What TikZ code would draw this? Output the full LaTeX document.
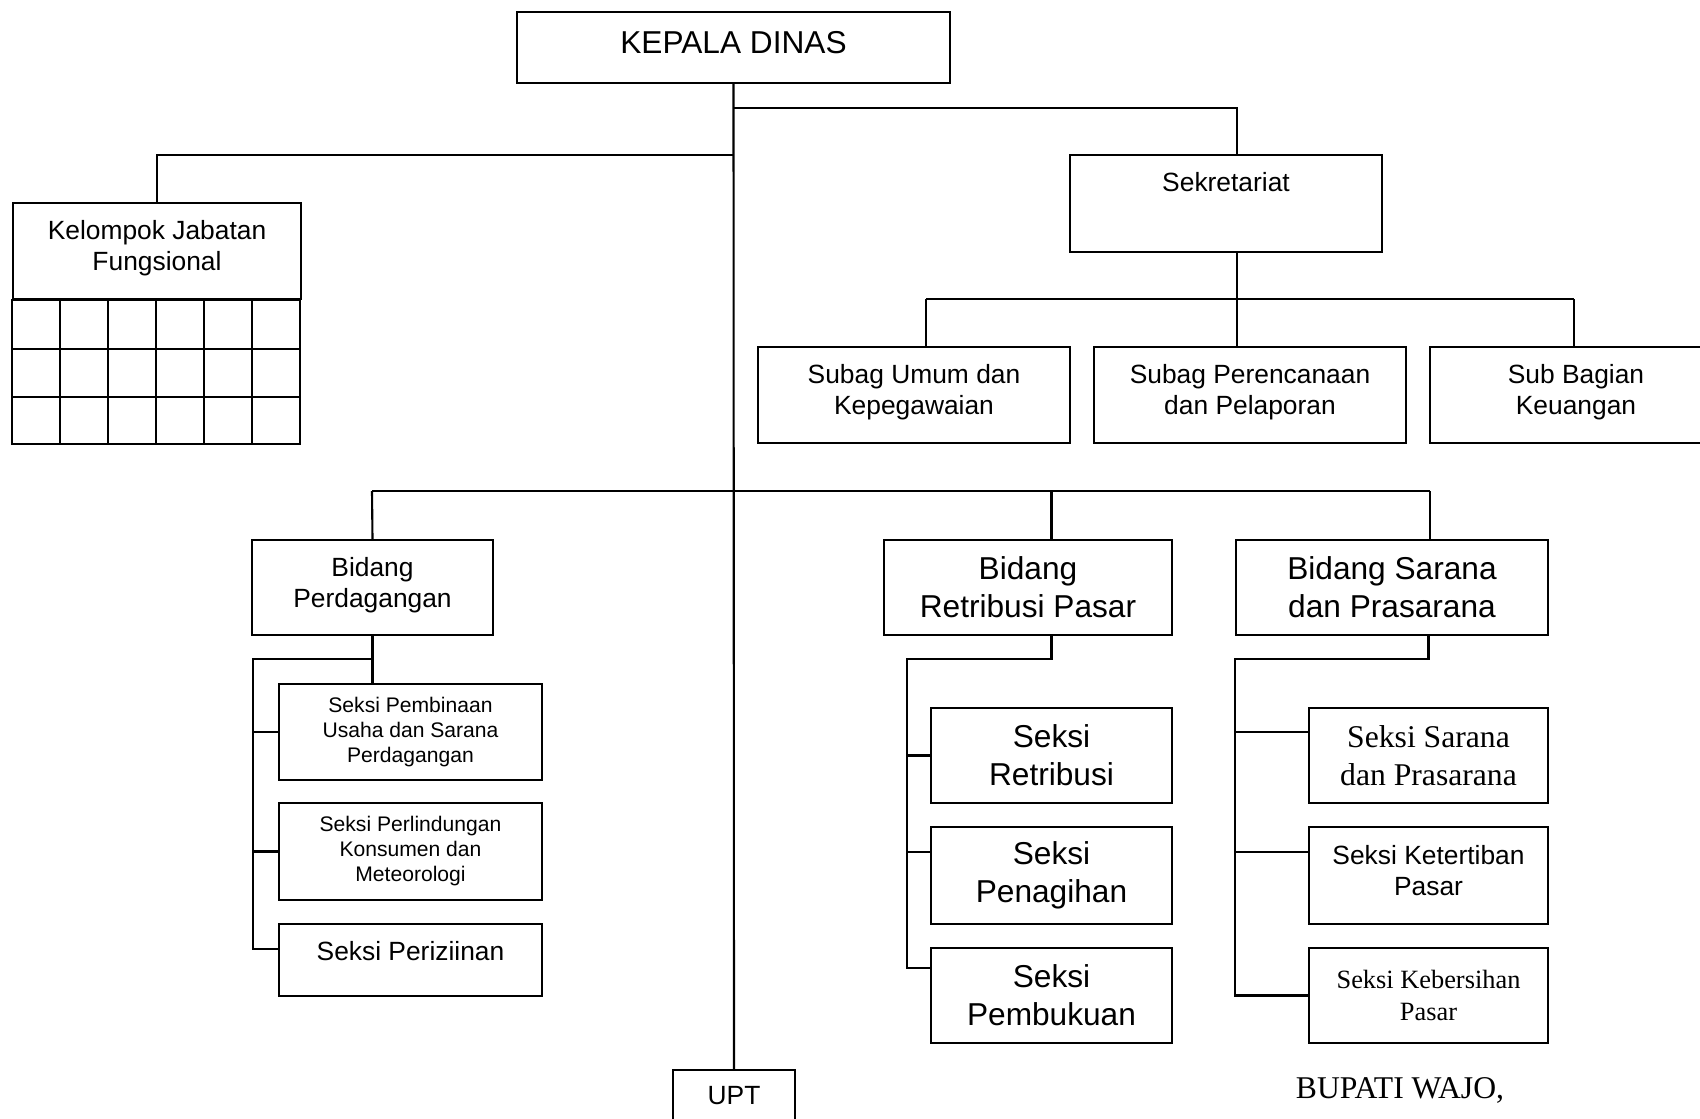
\documentclass[tikz,border=0pt]{standalone}
\usepackage{fontspec}
\setmainfont{Liberation Sans}
\newfontfamily\timesfont{Liberation Serif}

\tikzset{
  box/.style={draw, line width=0.6pt, align=center, inner sep=0pt},
  big/.style={font=\fontsize{9}{10.8}\selectfont},
  mid/.style={font=\fontsize{7.5}{8.9}\selectfont},
  sml/.style={font=\fontsize{6}{7.1}\selectfont},
  conn/.style={line width=0.6pt},
}

\begin{document}
\begin{tikzpicture}[x=0.01cm, y=-0.01cm]
\clip (0,0) rectangle (1700,1118);

% top level
\node[box, big, minimum width=4.33cm, minimum height=0.71cm, text depth=3pt] (kepala) at (733.5,47.5) {KEPALA DINAS};
\node[box, mid, minimum width=2.88cm, minimum height=0.96cm, text depth=3pt] (kjf) at (157,251) {Kelompok Jabatan\\Fungsional};
\node[box, mid, minimum width=3.12cm, minimum height=0.97cm, text depth=12.5pt] (sek) at (1226,203.5) {Sekretariat};

% grid under kelompok jabatan fungsional
\draw[line width=0.6pt] (kjf.south west) rectangle ++(288,144);
\foreach \i in {1,...,5}
  \draw[line width=0.6pt] ([xshift=\i*0.48cm]kjf.south west) -- ++(0,144);
\foreach \j in {1,2}
  \draw[line width=0.6pt] ([yshift=-\j*0.485cm]kjf.south west) -- ++(288,0);

% sub bagian
\node[box, mid, minimum width=3.12cm, minimum height=0.96cm, text depth=3pt] (umum) at (914,395) {Subag Umum dan\\Kepegawaian};
\node[box, mid, minimum width=3.12cm, minimum height=0.96cm, text depth=3pt] (perenc) at (1250,395) {Subag Perencanaan\\dan Pelaporan};
\node[box, mid, minimum width=2.92cm, minimum height=0.96cm, text depth=3pt] (keu) at (1576,395) {Sub Bagian\\Keuangan};

% bidang
\node[box, mid, minimum width=2.41cm, minimum height=0.95cm, text depth=3pt] (dag) at (372.5,587.5) {Bidang\\Perdagangan};
\node[box, big, minimum width=2.88cm, minimum height=0.95cm] (retr) at (1028,587.5) {Bidang\\Retribusi Pasar};
\node[box, big, minimum width=3.12cm, minimum height=0.95cm] (bsp) at (1392,587.5) {Bidang Sarana\\dan Prasarana};

% seksi perdagangan
\node[box, sml, minimum width=2.63cm, minimum height=0.96cm] (pemb) at (410.5,732) {Seksi Pembinaan\\Usaha dan Sarana\\Perdagangan};
\node[box, sml, minimum width=2.63cm, minimum height=0.97cm] (perl) at (410.5,851.5) {Seksi Perlindungan\\Konsumen dan\\Meteorologi};
\node[box, mid, minimum width=2.63cm, minimum height=0.72cm, text depth=5pt] (periz) at (410.5,960) {Seksi Periziinan};

% seksi retribusi
\node[box, big, minimum width=2.41cm, minimum height=0.95cm] (sr) at (1051.5,755.5) {Seksi\\Retribusi};
\node[box, big, minimum width=2.41cm, minimum height=0.97cm] (pen) at (1051.5,875.5) {Seksi\\Penagihan};
\node[box, big, minimum width=2.41cm, minimum height=0.95cm] (pbk) at (1051.5,995.5) {Seksi\\Pembukuan};

% seksi sarana
\node[box, big, minimum width=2.39cm, minimum height=0.95cm, font=\timesfont\fontsize{9}{10.8}\selectfont] (sarpras) at (1428.5,755.5) {Seksi Sarana\\dan Prasarana};
\node[box, mid, minimum width=2.39cm, minimum height=0.97cm, text depth=3pt] (tert) at (1428.5,875.5) {Seksi Ketertiban\\Pasar};
\node[box, mid, minimum width=2.39cm, minimum height=0.95cm, font=\timesfont\fontsize{7.5}{8.9}\selectfont] (keb) at (1428.5,995.5) {Seksi Kebersihan\\Pasar};

\node[box, mid, minimum width=1.22cm, minimum height=0.52cm] (upt) at (734,1096) {UPT};
\node[anchor=base, font=\timesfont\fontsize{9}{10.8}\selectfont] (bupati) at (1400,1098) {BUPATI WAJO,};

% junctions
\coordinate (jsek) at (1237,108);
\coordinate (jkjf) at (157,155);
\coordinate (jsub) at (1237,299);
\coordinate (ju) at (926,299);
\coordinate (jk) at (1574,299);
\coordinate (jbl) at (372,491);
\coordinate (jbr) at (1430,491);
\coordinate (jdag) at (253,659);
\coordinate (jretr) at (907,659);
\coordinate (jbsp) at (1235,659);

% lines
\draw[conn] (kepala.south) -- (upt.north);
\draw[conn] (kepala.south |- jsek) -- (jsek) -- (jsek |- sek.north);
\draw[conn] (kepala.south |- jkjf) -| (kjf.north);
\draw[conn] (jsek |- sek.south) -- (jsub);
\draw[conn] (ju) -- (jk);
\draw[conn] (ju) -- (ju |- umum.north);
\draw[conn] (jsub) -- (jsub |- perenc.north);
\draw[conn] (jk) -- (jk |- keu.north);

\draw[conn] (jbl) -- (jbr);
\draw[conn] (jbl) -- (dag.north);
\draw[conn] (sr.north |- jbl) -- (sr.north |- retr.north);
\draw[conn] (jbr) -- (jbr |- bsp.north);

\draw[conn] (dag.south) -- (dag.south |- pemb.north);
\draw[conn] (dag.south |- jdag) -- (jdag) |- ([yshift=0.11cm]periz.west);
\draw[conn] (jdag |- pemb.west) -- (pemb.west);
\draw[conn] (jdag |- perl.west) -- (perl.west);

\draw[conn] (sr.north |- retr.south) |- (jretr) |- ([yshift=0.275cm]pbk.west);
\draw[conn] (jretr |- sr.west) -- (sr.west);
\draw[conn] ([yshift=0.235cm]pen.west -| jretr) -- ([yshift=0.235cm]pen.west);

\draw[conn] (sarpras.north |- bsp.south) |- (jbsp) |- (keb.west);
\draw[conn] ([yshift=0.235cm]sarpras.west -| jbsp) -- ([yshift=0.235cm]sarpras.west);
\draw[conn] ([yshift=0.235cm]tert.west -| jbsp) -- ([yshift=0.235cm]tert.west);
\end{tikzpicture}
\end{document}
